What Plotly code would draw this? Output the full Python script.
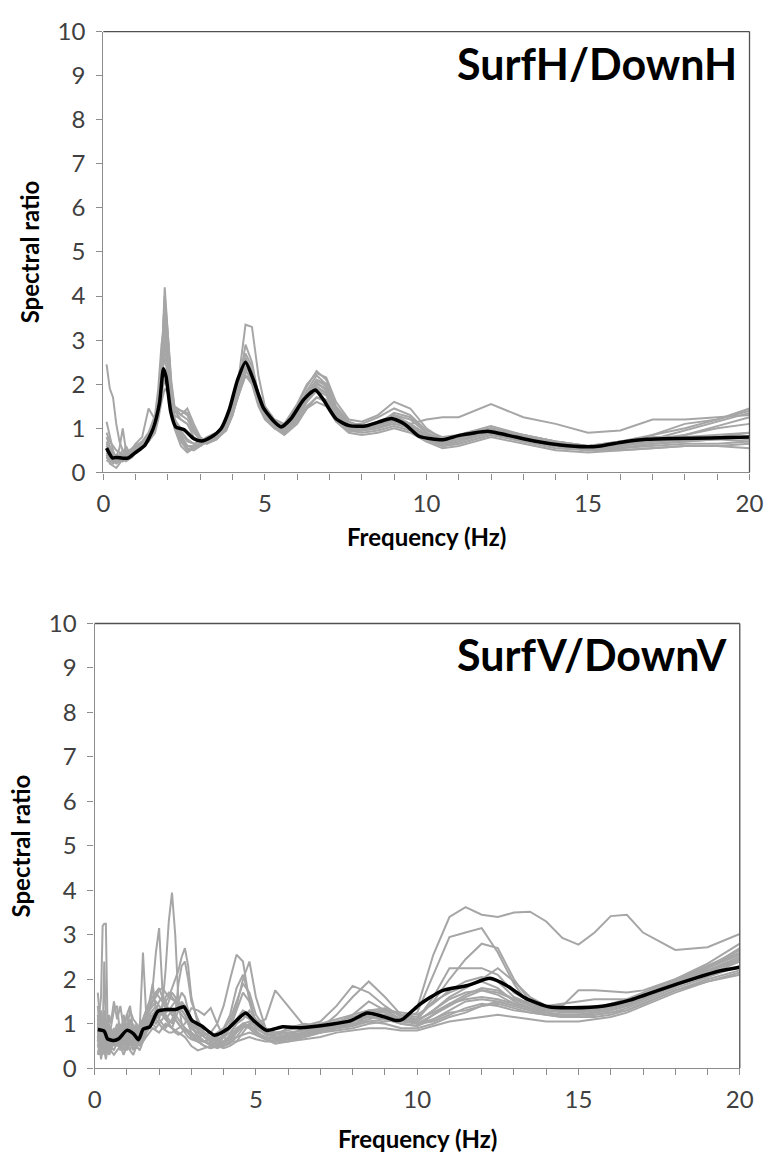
import plotly.graph_objects as go

# ---------------- DATA: SurfH/DownH (top panel) ----------------
F_H = [0.1, 0.2, 0.3, 0.4, 0.5, 0.6, 0.7, 0.8, 0.9, 1.0,
       1.2, 1.4, 1.6, 1.7, 1.8, 1.9, 2.0, 2.1, 2.2, 2.4,
       2.6, 2.8, 3.0, 3.2, 3.5, 3.8, 4.0, 4.2, 4.4, 4.6,
       4.8, 5.0, 5.3, 5.6, 6.0, 6.3, 6.6, 6.9, 7.2, 7.6,
       8.0, 8.5, 9.0, 9.5, 10.0, 10.5, 11.0, 12.0, 13.0, 14.0,
       15.0, 16.0, 17.0, 18.0, 19.0, 20.0]

H_01 = [0.9, 0.7, 0.6, 0.5, 0.45, 0.4, 0.45, 0.5, 0.55, 0.6,
        0.7, 0.9, 1.3, 1.9, 2.9, 3.4, 2.6, 1.6, 1.2, 1.0,
        0.9, 0.75, 0.7, 0.75, 0.85, 1.1, 1.5, 2.0, 2.4, 2.2,
        1.7, 1.35, 1.1, 1.0, 1.3, 1.7, 2.0, 1.9, 1.4, 1.05,
        1.0, 1.1, 1.25, 1.1, 1.2, 1.25, 1.25, 1.55, 1.25, 1.1,
        0.9, 0.95, 1.2, 1.2, 1.25, 1.3]
H_02 = [2.45, 1.9, 1.7, 1.1, 0.7, 0.5, 0.4, 0.35, 0.4, 0.5,
        0.6, 0.75, 1.1, 1.6, 2.6, 3.9, 3.0, 1.9, 1.4, 1.2,
        1.1, 0.8, 0.65, 0.7, 0.8, 1.05, 1.4, 1.9, 2.3, 2.1,
        1.6, 1.3, 1.05, 0.95, 1.35, 1.8, 2.1, 1.95, 1.45, 1.1,
        1.1, 1.25, 1.45, 1.3, 0.95, 0.8, 0.85, 1.0, 0.8, 0.65,
        0.55, 0.6, 0.7, 0.75, 0.8, 0.9]
H_03 = [1.15, 0.8, 0.5, 0.3, 0.25, 0.3, 0.35, 0.3, 0.35, 0.45,
        0.55, 0.7, 1.0, 1.5, 2.4, 4.2, 3.2, 2.0, 1.5, 1.4,
        1.35, 1.0, 0.7, 0.65, 0.75, 1.0, 1.35, 1.8, 2.2, 2.0,
        1.5, 1.2, 1.0, 0.9, 1.2, 1.6, 1.9, 1.8, 1.3, 1.0,
        1.0, 1.15, 1.3, 1.1, 0.85, 0.75, 0.85, 1.05, 0.85, 0.7,
        0.6, 0.65, 0.75, 0.85, 1.0, 1.1]
H_04 = [0.4, 0.2, 0.15, 0.1, 0.2, 0.3, 0.25, 0.3, 0.4, 0.5,
        0.6, 0.75, 1.05, 1.5, 2.3, 4.0, 3.1, 2.1, 1.5, 1.3,
        1.45, 1.1, 0.8, 0.7, 0.8, 0.95, 1.3, 1.85, 2.5, 2.3,
        1.7, 1.4, 1.15, 1.05, 1.5, 1.95, 2.3, 2.1, 1.5, 1.15,
        1.05, 1.1, 1.2, 1.05, 0.8, 0.7, 0.8, 1.0, 0.8, 0.65,
        0.6, 0.7, 0.85, 1.0, 1.2, 1.4]
H_05 = [0.6, 0.45, 0.3, 0.35, 0.55, 1.0, 0.5, 0.35, 0.4, 0.5,
        0.6, 0.7, 0.95, 1.3, 2.0, 3.5, 2.9, 1.8, 1.1, 0.7,
        0.5, 0.55, 0.6, 0.7, 0.8, 1.0, 1.4, 2.0, 2.9, 2.5,
        1.75, 1.35, 1.1, 0.95, 1.25, 1.65, 1.95, 1.8, 1.3, 0.95,
        0.95, 1.05, 1.2, 1.05, 0.8, 0.65, 0.7, 0.95, 0.8, 0.6,
        0.5, 0.55, 0.65, 0.7, 0.75, 0.8]
H_06 = [0.3, 0.35, 0.25, 0.3, 0.4, 0.3, 0.35, 0.4, 0.5, 0.55,
        0.65, 0.8, 1.1, 1.6, 2.6, 3.2, 2.7, 1.7, 1.0, 0.6,
        0.45, 0.55, 0.65, 0.75, 0.9, 1.1, 1.5, 2.2, 3.35, 3.3,
        2.2, 1.5, 1.15, 1.0, 1.4, 1.85, 2.2, 2.0, 1.45, 1.05,
        1.0, 1.1, 1.3, 1.2, 0.9, 0.75, 0.8, 1.0, 0.85, 0.7,
        0.6, 0.7, 0.8, 0.8, 0.85, 0.9]
H_07 = [0.5, 0.4, 0.35, 0.25, 0.3, 0.35, 0.4, 0.35, 0.45, 0.55,
        0.65, 0.8, 1.1, 1.5, 2.1, 2.9, 2.5, 1.7, 1.2, 0.95,
        0.75, 0.65, 0.6, 0.7, 0.85, 1.05, 1.45, 2.0, 2.6, 2.3,
        1.65, 1.3, 1.05, 0.9, 1.2, 1.5, 1.7, 1.6, 1.2, 0.95,
        0.9, 0.95, 1.05, 0.95, 0.75, 0.6, 0.65, 0.85, 0.7, 0.55,
        0.5, 0.55, 0.6, 0.65, 0.65, 0.7]
H_08 = [0.7, 0.5, 0.4, 0.35, 0.3, 0.4, 0.6, 0.45, 0.55, 0.65,
        0.8, 1.45, 1.2, 1.6, 2.2, 2.6, 2.2, 1.6, 1.2, 0.85,
        0.6, 0.55, 0.6, 0.7, 0.85, 1.05, 1.45, 2.0, 2.7, 2.4,
        1.75, 1.4, 1.15, 1.05, 1.45, 1.8, 2.05, 1.85, 1.35, 1.0,
        1.0, 1.1, 1.35, 1.25, 0.9, 0.7, 0.75, 0.95, 0.8, 0.65,
        0.55, 0.6, 0.7, 0.85, 1.05, 1.25]
H_09 = [0.35, 0.25, 0.2, 0.3, 0.35, 0.25, 0.3, 0.35, 0.4, 0.5,
        0.6, 0.75, 1.0, 1.35, 1.9, 2.3, 2.0, 1.5, 1.1, 0.75,
        0.55, 0.5, 0.6, 0.7, 0.85, 1.05, 1.4, 1.9, 2.4, 2.2,
        1.6, 1.3, 1.05, 0.9, 1.15, 1.45, 1.6, 1.5, 1.15, 0.9,
        0.85, 0.9, 1.0, 0.9, 0.7, 0.55, 0.6, 0.8, 0.65, 0.5,
        0.45, 0.5, 0.55, 0.6, 0.6, 0.55]
H_10 = [0.8, 0.6, 0.45, 0.35, 0.4, 0.5, 0.45, 0.4, 0.45, 0.5,
        0.6, 0.7, 0.9, 1.2, 1.6, 1.9, 1.8, 1.5, 1.3, 1.2,
        1.1, 0.9, 0.75, 0.7, 0.8, 1.0, 1.35, 1.85, 2.35, 2.25,
        1.8, 1.5, 1.2, 1.1, 1.55, 2.0, 2.25, 2.15, 1.6, 1.2,
        1.15, 1.3, 1.6, 1.45, 1.0, 0.75, 0.8, 0.95, 0.8, 0.65,
        0.55, 0.6, 0.75, 0.95, 1.15, 1.35]
H_11 = [0.25, 0.3, 0.35, 0.4, 0.35, 0.4, 0.45, 0.4, 0.45, 0.55,
        0.65, 0.8, 1.05, 1.4, 2.0, 2.8, 2.4, 1.7, 1.25, 0.8,
        0.6, 0.6, 0.65, 0.75, 0.85, 1.0, 1.35, 1.8, 2.2, 2.05,
        1.55, 1.25, 1.0, 0.9, 1.25, 1.6, 1.85, 1.75, 1.3, 1.0,
        0.95, 1.0, 1.15, 1.0, 0.75, 0.6, 0.7, 0.9, 0.75, 0.6,
        0.5, 0.55, 0.65, 0.7, 0.75, 0.7]
H_12 = [0.45, 0.3, 0.25, 0.2, 0.25, 0.3, 0.35, 0.45, 0.5, 0.6,
        0.7, 0.85, 1.1, 1.5, 2.3, 3.7, 2.9, 1.8, 1.2, 0.9,
        0.7, 0.65, 0.7, 0.8, 0.9, 1.1, 1.5, 2.05, 2.5, 2.25,
        1.65, 1.35, 1.1, 1.0, 1.3, 1.75, 2.1, 2.0, 1.45, 1.1,
        1.05, 1.1, 1.25, 1.1, 0.85, 0.7, 0.75, 0.95, 0.85, 0.7,
        0.6, 0.65, 0.7, 0.75, 0.8, 0.75]
H_13 = [0.55, 0.4, 0.3, 0.25, 0.3, 0.35, 0.3, 0.35, 0.45, 0.5,
        0.6, 0.75, 1.0, 1.4, 2.2, 3.0, 2.6, 1.8, 1.4, 1.3,
        1.2, 0.95, 0.7, 0.65, 0.75, 0.95, 1.3, 1.8, 2.3, 2.15,
        1.6, 1.25, 1.0, 0.85, 1.1, 1.45, 1.7, 1.65, 1.25, 0.95,
        0.95, 1.0, 1.1, 1.0, 0.8, 0.6, 0.65, 0.85, 0.75, 0.6,
        0.5, 0.5, 0.55, 0.6, 0.6, 0.65]
H_14 = [0.65, 0.5, 0.4, 0.3, 0.35, 0.3, 0.4, 0.45, 0.5, 0.55,
        0.65, 0.8, 1.0, 1.35, 1.8, 2.1, 1.9, 1.6, 1.45, 1.4,
        1.3, 1.0, 0.75, 0.7, 0.8, 1.0, 1.35, 1.85, 2.2, 2.1,
        1.6, 1.3, 1.05, 0.95, 1.3, 1.7, 2.0, 1.9, 1.4, 1.05,
        1.0, 1.05, 1.2, 1.1, 0.85, 0.65, 0.75, 0.95, 0.75, 0.6,
        0.55, 0.6, 0.85, 1.1, 1.2, 1.45]

H_MEAN_F = [0.1, 0.28, 0.4, 0.6, 0.78, 0.98, 1.29, 1.54, 1.74, 1.86,
            1.94, 2.09, 2.24, 2.49, 2.79, 3.04, 3.34, 3.64, 3.9, 4.15,
            4.4, 4.65, 4.95, 5.3, 5.5, 5.8, 6.2, 6.56, 6.81, 7.21,
            7.61, 8.11, 8.51, 8.92, 9.32, 9.77, 10.52, 11.02, 11.93, 12.53,
            13.33, 14.14, 14.94, 15.39, 16.09, 16.8, 17.8, 18.8, 20.0]
H_MEAN = [0.55, 0.33, 0.34, 0.32, 0.33, 0.44, 0.62, 0.99, 1.58, 2.35,
          2.17, 1.36, 1.03, 0.97, 0.77, 0.71, 0.80, 0.99, 1.43, 2.09,
          2.50, 2.09, 1.47, 1.14, 1.03, 1.21, 1.65, 1.87, 1.65, 1.21,
          1.06, 1.05, 1.14, 1.22, 1.10, 0.82, 0.74, 0.84, 0.93, 0.84,
          0.71, 0.62, 0.58, 0.60, 0.69, 0.75, 0.77, 0.78, 0.80]

# ---------------- DATA: SurfV/DownV (bottom panel) ----------------
F_V = [0.1, 0.15, 0.2, 0.25, 0.3, 0.35, 0.4, 0.45, 0.5, 0.6,
       0.7, 0.8, 0.9, 1.0, 1.1, 1.2, 1.3, 1.4, 1.5, 1.6,
       1.7, 1.8, 1.9, 2.0, 2.1, 2.2, 2.3, 2.4, 2.5, 2.6,
       2.7, 2.8, 2.9, 3.0, 3.2, 3.4, 3.6, 3.8, 4.0, 4.2,
       4.4, 4.6, 4.8, 5.0, 5.3, 5.6, 6.0, 6.5, 7.0, 7.5,
       8.0, 8.5, 9.0, 9.5, 10.0, 10.5, 11.0, 11.5, 12.0, 12.5,
       13.0, 13.5, 14.0, 14.5, 15.0, 15.5, 16.0, 16.5, 17.0, 18.0,
       19.0, 20.0]

V_01 = [0.9, 1.2, 1.6, 3.2, 3.25, 3.25, 1.0, 0.7, 0.9, 0.6,
        0.8, 0.5, 0.7, 0.9, 0.6, 0.5, 0.7, 0.5, 0.6, 0.8,
        1.0, 1.2, 1.3, 1.2, 1.4, 1.5, 1.3, 1.2, 1.1, 1.0,
        0.9, 0.8, 0.7, 0.65, 0.6, 0.5, 0.45, 0.5, 0.6, 0.7,
        0.9, 1.0, 0.9, 0.8, 0.7, 0.65, 0.7, 0.75, 0.8, 0.85,
        0.9, 1.0, 1.05, 1.1, 1.35, 2.55, 3.4, 3.62, 3.45, 3.4,
        3.5, 3.52, 3.3, 2.93, 2.78, 3.05, 3.42, 3.45, 3.05, 2.66,
        2.72, 3.02]
V_02 = [0.6, 0.8, 0.5, 0.7, 0.9, 0.6, 0.5, 0.8, 0.6, 0.7,
        0.9, 0.6, 0.8, 0.7, 0.9, 0.6, 0.8, 1.0, 1.1, 1.3,
        1.5, 1.9, 1.3, 1.1, 1.0, 0.9, 1.0, 1.1, 1.3, 1.5,
        1.7, 1.6, 1.3, 1.0, 0.7, 0.6, 0.55, 0.6, 0.7, 0.9,
        1.3, 1.7, 1.5, 1.0, 0.8, 0.7, 0.75, 0.8, 0.85, 0.9,
        0.95, 1.2, 1.3, 1.1, 1.25, 2.1, 2.95, 3.05, 3.15, 2.6,
        1.9, 1.4, 1.3, 1.25, 1.25, 1.3, 1.35, 1.45, 1.6, 1.9,
        2.2, 2.5]
V_03 = [0.5, 0.4, 0.6, 0.3, 0.5, 0.4, 0.7, 0.5, 0.4, 0.6,
        0.5, 0.7, 0.4, 0.6, 0.8, 0.5, 0.6, 0.9, 2.6, 1.2,
        0.9, 1.0, 1.1, 1.2, 1.3, 1.1, 1.0, 0.9, 0.8, 0.75,
        0.8, 0.9, 0.85, 0.8, 0.7, 0.6, 0.55, 0.5, 0.55, 0.65,
        0.8, 0.95, 0.9, 0.75, 0.65, 0.6, 0.65, 0.7, 0.8, 0.9,
        0.95, 1.05, 1.1, 1.05, 1.1, 1.5, 2.0, 2.45, 2.8, 2.7,
        2.0, 1.5, 1.35, 1.3, 1.3, 1.3, 1.35, 1.45, 1.6, 1.95,
        2.3, 2.6]
V_04 = [0.7, 0.9, 0.6, 0.8, 0.5, 0.7, 0.4, 0.6, 0.8, 0.5,
        0.7, 0.9, 0.6, 0.8, 0.7, 0.5, 0.9, 0.8, 1.0, 1.1,
        1.2, 1.1, 1.0, 1.1, 1.4, 2.2, 3.3, 3.95, 3.0, 1.5,
        1.0, 0.9, 0.8, 0.7, 0.6, 0.6, 0.7, 0.8, 0.9, 1.2,
        1.8, 2.1, 1.6, 1.0, 0.8, 0.75, 0.8, 0.85, 0.9, 1.0,
        1.05, 1.2, 1.3, 1.2, 1.15, 1.5, 1.7, 1.85, 1.95, 1.8,
        1.5, 1.35, 1.3, 1.3, 1.3, 1.35, 1.4, 1.5, 1.65, 1.95,
        2.25, 2.55]
V_05 = [0.8, 1.1, 0.7, 0.9, 0.6, 0.8, 1.0, 0.7, 0.6, 0.9,
        0.6, 0.8, 1.0, 0.7, 0.5, 0.8, 0.6, 0.7, 0.9, 1.2,
        1.3, 1.8, 2.6, 3.15, 1.8, 1.2, 1.0, 0.9, 1.1, 1.3,
        1.5, 1.4, 1.1, 0.9, 0.8, 0.7, 0.6, 0.65, 0.75, 0.9,
        1.1, 1.3, 1.2, 0.95, 0.8, 0.75, 0.9, 1.0, 0.95, 1.0,
        1.2, 1.5, 1.3, 1.1, 1.05, 1.3, 1.55, 1.7, 1.75, 1.7,
        1.55, 1.45, 1.35, 1.3, 1.3, 1.35, 1.45, 1.55, 1.7, 2.0,
        2.3, 2.65]
V_06 = [1.4, 0.9, 1.2, 0.8, 0.6, 0.9, 0.7, 0.5, 0.7, 0.6,
        0.9, 0.6, 0.8, 1.2, 0.9, 0.7, 0.6, 0.5, 0.7, 0.9,
        1.0, 1.1, 1.3, 1.5, 1.6, 1.5, 1.6, 1.8, 2.0, 2.2,
        2.5, 2.7, 2.3, 1.6, 1.0, 0.7, 0.6, 0.55, 0.6, 0.75,
        1.0, 1.2, 1.1, 0.9, 0.75, 0.7, 0.75, 0.9, 1.0, 1.1,
        1.2, 1.3, 1.25, 1.05, 1.0, 1.2, 1.45, 1.55, 1.6, 1.55,
        1.45, 1.35, 1.25, 1.2, 1.2, 1.25, 1.3, 1.4, 1.55, 1.85,
        2.1, 2.4]
V_07 = [1.0, 0.7, 0.5, 0.9, 1.3, 0.7, 0.6, 0.9, 0.7, 0.5,
        0.7, 1.0, 0.8, 0.6, 0.8, 1.0, 0.7, 0.6, 0.8, 1.1,
        1.3, 1.5, 1.7, 1.8, 1.6, 1.4, 1.3, 1.2, 1.1, 1.0,
        0.9, 0.85, 0.8, 0.75, 0.7, 0.75, 0.8, 1.0, 1.4, 2.0,
        2.55, 2.4, 1.5, 1.0, 1.1, 1.75, 1.4, 0.95, 0.9, 0.95,
        1.1, 1.25, 1.2, 1.0, 0.95, 1.1, 1.3, 1.5, 1.55, 1.5,
        1.4, 1.3, 1.2, 1.15, 1.15, 1.2, 1.25, 1.35, 1.5, 1.8,
        2.05, 2.3]
V_08 = [0.6, 0.9, 1.3, 0.7, 0.5, 0.8, 0.6, 1.0, 0.6, 0.8,
        1.0, 0.7, 0.5, 0.8, 1.1, 0.7, 0.5, 0.7, 0.9, 1.0,
        1.1, 1.2, 1.3, 1.3, 1.2, 1.3, 1.5, 1.7, 1.6, 1.4,
        1.3, 1.2, 1.0, 0.8, 0.6, 0.5, 0.45, 0.5, 0.7, 1.0,
        1.4, 2.0, 2.4, 1.6, 0.9, 0.7, 0.7, 0.8, 0.9, 1.2,
        1.6, 1.95, 1.6, 1.2, 1.0, 1.05, 1.2, 1.35, 1.45, 1.4,
        1.3, 1.25, 1.2, 1.2, 1.2, 1.2, 1.25, 1.3, 1.45, 1.75,
        2.0, 2.2]
V_09 = [1.7, 1.2, 0.8, 0.6, 1.0, 0.7, 0.5, 0.4, 0.6, 0.8,
        0.5, 0.6, 0.9, 0.7, 0.6, 0.8, 0.7, 0.9, 1.1, 1.3,
        1.5, 1.6, 1.7, 1.6, 1.5, 1.4, 1.3, 1.25, 1.3, 1.4,
        1.45, 1.4, 1.3, 1.1, 0.9, 0.8, 0.7, 0.6, 0.6, 0.7,
        0.85, 1.0, 1.05, 0.95, 0.85, 0.8, 0.85, 0.95, 1.05, 1.4,
        1.85, 1.7, 1.4, 1.15, 1.1, 1.6, 2.25, 2.25, 2.25, 2.1,
        1.7, 1.5, 1.4, 1.4, 1.75, 1.75, 1.72, 1.7, 1.75, 2.0,
        2.35, 2.8]
V_10 = [0.3, 0.5, 0.2, 0.4, 0.6, 0.3, 0.5, 0.3, 0.4, 0.3,
        0.4, 0.5, 0.3, 0.5, 0.4, 0.3, 0.5, 0.4, 0.6, 0.7,
        0.8, 0.9, 0.85, 0.8, 0.9, 1.0, 0.95, 0.9, 0.85, 0.8,
        0.75, 0.7, 0.6, 0.5, 0.4, 0.45, 0.5, 0.55, 0.6, 0.65,
        0.7, 0.75, 0.8, 0.75, 0.65, 0.6, 0.6, 0.65, 0.7, 0.8,
        0.85, 0.9, 0.9, 0.85, 0.85, 0.95, 1.05, 1.1, 1.15, 1.2,
        1.15, 1.1, 1.05, 1.05, 1.05, 1.1, 1.15, 1.25, 1.4, 1.7,
        1.95, 2.1]
V_11 = [1.2, 0.6, 0.9, 0.5, 0.7, 0.5, 0.9, 0.6, 0.5, 0.4,
        0.6, 0.4, 0.6, 0.5, 0.7, 0.4, 0.6, 0.5, 0.7, 0.9,
        1.1, 1.2, 1.1, 1.0, 0.9, 0.85, 0.8, 0.8, 0.85, 0.9,
        0.95, 1.0, 1.2, 1.35, 1.3, 1.2, 1.35, 1.0, 0.7, 0.6,
        0.6, 0.65, 0.7, 0.65, 0.6, 0.6, 0.65, 0.75, 0.85, 0.95,
        1.0, 1.1, 1.2, 1.1, 1.0, 1.1, 1.25, 1.3, 1.4, 1.45,
        1.35, 1.25, 1.2, 1.15, 1.15, 1.15, 1.2, 1.3, 1.45, 1.75,
        1.95, 2.15]
V_12 = [0.5, 0.7, 0.4, 0.6, 0.4, 0.2, 0.4, 0.6, 0.5, 0.7,
        0.8, 0.6, 1.0, 0.8, 0.6, 0.7, 0.9, 0.8, 1.0, 1.2,
        1.3, 1.4, 1.5, 1.4, 1.3, 1.25, 1.3, 1.4, 1.5, 1.5,
        1.4, 1.3, 1.2, 1.0, 0.85, 0.7, 0.6, 0.5, 0.5, 0.55,
        0.7, 0.9, 1.0, 0.85, 0.65, 0.55, 0.6, 0.7, 0.8, 0.9,
        1.0, 1.05, 1.0, 0.9, 0.9, 1.0, 1.15, 1.25, 1.4, 1.5,
        1.4, 1.3, 1.25, 1.2, 1.2, 1.25, 1.3, 1.4, 1.55, 1.85,
        2.15, 2.45]
V_13 = [0.9, 0.6, 1.0, 0.7, 2.4, 1.1, 0.8, 1.2, 1.0, 1.5,
        1.1, 1.4, 0.9, 1.2, 1.4, 0.8, 1.0, 0.6, 0.9, 1.2,
        1.4, 1.5, 1.6, 1.75, 1.8, 1.7, 1.6, 1.55, 1.5, 1.4,
        1.3, 1.2, 1.1, 1.0, 0.9, 0.8, 0.7, 0.65, 0.7, 0.8,
        1.0, 1.1, 1.3, 1.1, 0.9, 0.8, 0.8, 0.85, 0.95, 1.05,
        1.15, 1.25, 1.3, 1.25, 1.2, 1.45, 1.75, 1.95, 2.05, 1.95,
        1.6, 1.45, 1.4, 1.45, 1.5, 1.55, 1.55, 1.55, 1.6, 1.9,
        2.25, 2.7]
V_14 = [0.4, 0.3, 0.7, 1.0, 0.6, 0.4, 0.6, 0.8, 0.9, 1.3,
        1.4, 0.7, 1.2, 0.9, 1.3, 1.1, 1.0, 0.7, 0.6, 0.8,
        0.9, 1.0, 0.9, 1.0, 1.1, 1.2, 1.1, 1.0, 1.2, 1.9,
        2.3, 2.4, 2.0, 1.5, 1.1, 0.8, 0.6, 0.5, 0.45, 0.5,
        0.6, 0.8, 1.0, 1.0, 0.8, 0.65, 0.65, 0.75, 0.85, 0.95,
        1.05, 1.15, 1.1, 1.0, 0.95, 1.2, 1.4, 1.6, 1.75, 1.65,
        1.45, 1.35, 1.3, 1.3, 1.25, 1.3, 1.35, 1.5, 1.65, 1.95,
        2.3, 2.55]
V_15 = [0.7, 0.5, 0.8, 0.6, 0.9, 0.7, 0.5, 0.3, 0.5, 0.6,
        0.5, 0.9, 0.7, 0.4, 0.6, 0.9, 0.5, 0.6, 0.8, 1.0,
        1.2, 1.3, 1.4, 1.3, 1.2, 1.1, 1.2, 1.3, 1.2, 1.1,
        1.0, 0.9, 0.8, 0.7, 0.65, 0.6, 0.65, 0.7, 0.85, 1.1,
        1.5, 1.9, 1.7, 1.2, 0.9, 0.7, 0.7, 0.75, 0.8, 0.95,
        1.1, 1.3, 1.35, 1.2, 1.1, 1.25, 1.45, 1.65, 1.8, 1.75,
        1.55, 1.4, 1.35, 1.3, 1.3, 1.3, 1.35, 1.45, 1.6, 1.9,
        2.2, 2.45]
V_16 = [1.1, 0.8, 0.5, 0.7, 0.4, 0.6, 0.8, 0.5, 0.7, 0.9,
        0.7, 0.5, 0.8, 0.6, 0.4, 0.6, 0.8, 0.6, 0.8, 0.9,
        1.0, 1.1, 1.2, 1.3, 1.4, 1.6, 1.7, 1.6, 1.5, 1.3,
        1.2, 1.1, 1.0, 0.9, 0.75, 0.6, 0.5, 0.45, 0.5, 0.6,
        0.8, 1.0, 0.95, 0.8, 0.7, 0.65, 0.7, 0.8, 0.9, 1.0,
        1.1, 1.15, 1.2, 1.1, 1.05, 1.3, 1.6, 1.8, 2.0, 2.25,
        1.95, 1.6, 1.4, 1.35, 1.35, 1.35, 1.4, 1.45, 1.6, 1.9,
        2.2, 2.4]

V_MEAN_F = [0.1, 0.3, 0.4, 0.6, 0.75, 1.0, 1.21, 1.36, 1.51, 1.71,
            1.96, 2.26, 2.51, 2.77, 3.02, 3.32, 3.72, 4.12, 4.68, 4.93,
            5.33, 5.83, 6.33, 7.34, 7.95, 8.45, 8.95, 9.35, 9.55, 10.05,
            10.76, 11.56, 12.26, 12.77, 13.37, 14.08, 14.78, 15.79, 16.59, 17.59,
            18.6, 19.4, 20.0]
V_MEAN = [0.87, 0.83, 0.66, 0.62, 0.66, 0.85, 0.77, 0.64, 0.88, 0.93,
          1.28, 1.32, 1.32, 1.38, 1.07, 0.95, 0.74, 0.88, 1.24, 1.07,
          0.85, 0.93, 0.91, 0.99, 1.07, 1.24, 1.16, 1.07, 1.10, 1.42,
          1.74, 1.86, 2.02, 1.86, 1.57, 1.38, 1.36, 1.40, 1.53, 1.78,
          2.02, 2.19, 2.27]

H_GRAY = [H_01, H_02, H_03, H_04, H_05, H_06, H_07, H_08, H_09, H_10, H_11, H_12, H_13, H_14]
V_GRAY = [V_01, V_02, V_03, V_04, V_05, V_06, V_07, V_08, V_09, V_10, V_11, V_12, V_13, V_14, V_15, V_16]

Y_TICKS = [0, 1, 2, 3, 4, 5, 6, 7, 8, 9, 10]
X_TICKS = [0, 5, 10, 15, 20]

# ---------------- FIGURE ----------------
W, H = 782, 1167
GRAY = "#a6a6a6"
FONT = "Lato, 'Open Sans', sans-serif"

fig = go.Figure()
for s in H_GRAY:
    fig.add_trace(go.Scatter(x=F_H, y=s, mode="lines", xaxis="x", yaxis="y",
                             line=dict(color=GRAY, width=2), hoverinfo="skip"))
fig.add_trace(go.Scatter(x=H_MEAN_F, y=H_MEAN, mode="lines", xaxis="x", yaxis="y",
                         line=dict(color="#000000", width=3.5, shape="spline", smoothing=0.6)))
for s in V_GRAY:
    fig.add_trace(go.Scatter(x=F_V, y=s, mode="lines", xaxis="x2", yaxis="y2",
                             line=dict(color=GRAY, width=2), hoverinfo="skip"))
fig.add_trace(go.Scatter(x=V_MEAN_F, y=V_MEAN, mode="lines", xaxis="x2", yaxis="y2",
                         line=dict(color="#000000", width=3.5, shape="spline", smoothing=0.6)))

def px_x(p):
    return p / W

def px_y(p):
    return 1 - p / H

# plot areas in pixels
TOP = dict(l=99, r=763, t=16, b=468)
BOT = dict(l=90, r=753, t=623, b=1079)

def xaxis(area, anchor):
    return dict(domain=[px_x(area["l"]), px_x(area["r"])], anchor=anchor,
                range=[0, 20], tickvals=X_TICKS, ticktext=[str(v) for v in X_TICKS],
                ticks="outside", ticklen=6, tickcolor="#8c8c8c", tickwidth=1.2,
                minor=dict(dtick=1, ticks="outside", ticklen=6, tickcolor="#8c8c8c", tickwidth=1.2, showgrid=False),
                showline=True, linecolor="#8c8c8c", linewidth=1.3,
                showgrid=False, zeroline=False, ticklabelstandoff=4,
                tickfont=dict(family=FONT, size=24, color="#404040"))

def yaxis(area, anchor):
    return dict(domain=[px_y(area["b"]), px_y(area["t"])], anchor=anchor,
                range=[0, 10], tickvals=Y_TICKS,
                ticks="outside", ticklen=6, tickcolor="#8c8c8c", tickwidth=1.2,
                showline=True, linecolor="#8c8c8c", linewidth=1.3,
                showgrid=False, zeroline=False, ticklabelstandoff=6,
                tickfont=dict(family=FONT, size=24, color="#404040"))

fig.update_layout(
    width=W, height=H, margin=dict(l=0, r=0, t=0, b=0),
    paper_bgcolor="white", plot_bgcolor="white", showlegend=False,
    xaxis=xaxis(TOP, "y"), yaxis=yaxis(TOP, "x"),
    xaxis2=xaxis(BOT, "y2"), yaxis2=yaxis(BOT, "x2"),
)

# dark top/right border of each plot area
for xr, yr in (("x domain", "y domain"), ("x2 domain", "y2 domain")):
    fig.add_shape(type="line", xref=xr, yref=yr, x0=0, x1=1, y0=1, y1=1,
                  line=dict(color="#505050", width=1.3))
    fig.add_shape(type="line", xref=xr, yref=yr, x0=1, x1=1, y0=0, y1=1,
                  line=dict(color="#505050", width=1.3))

def ann(text, x, y, size, angle=0, xanchor="center"):
    fig.add_annotation(text=text, x=px_x(x), y=px_y(y), xref="paper", yref="paper",
                       showarrow=False, xanchor=xanchor, yanchor="middle", textangle=angle,
                       font=dict(family=FONT, size=size, color="#000000", weight=700))

ann("SurfH/DownH", 752, 49, 43, xanchor="right")
ann("SurfV/DownV", 742, 655, 43, xanchor="right")
ann("Spectral ratio", 24, (TOP["t"] + TOP["b"]) / 2, 24, angle=-90)
ann("Spectral ratio", 14, (BOT["t"] + BOT["b"]) / 2, 24, angle=-90)
ann("Frequency (Hz)", (TOP["l"] + TOP["r"]) / 2, 534, 24)
ann("Frequency (Hz)", (BOT["l"] + BOT["r"]) / 2, 1151, 24)

fig.write_html("out.html")
